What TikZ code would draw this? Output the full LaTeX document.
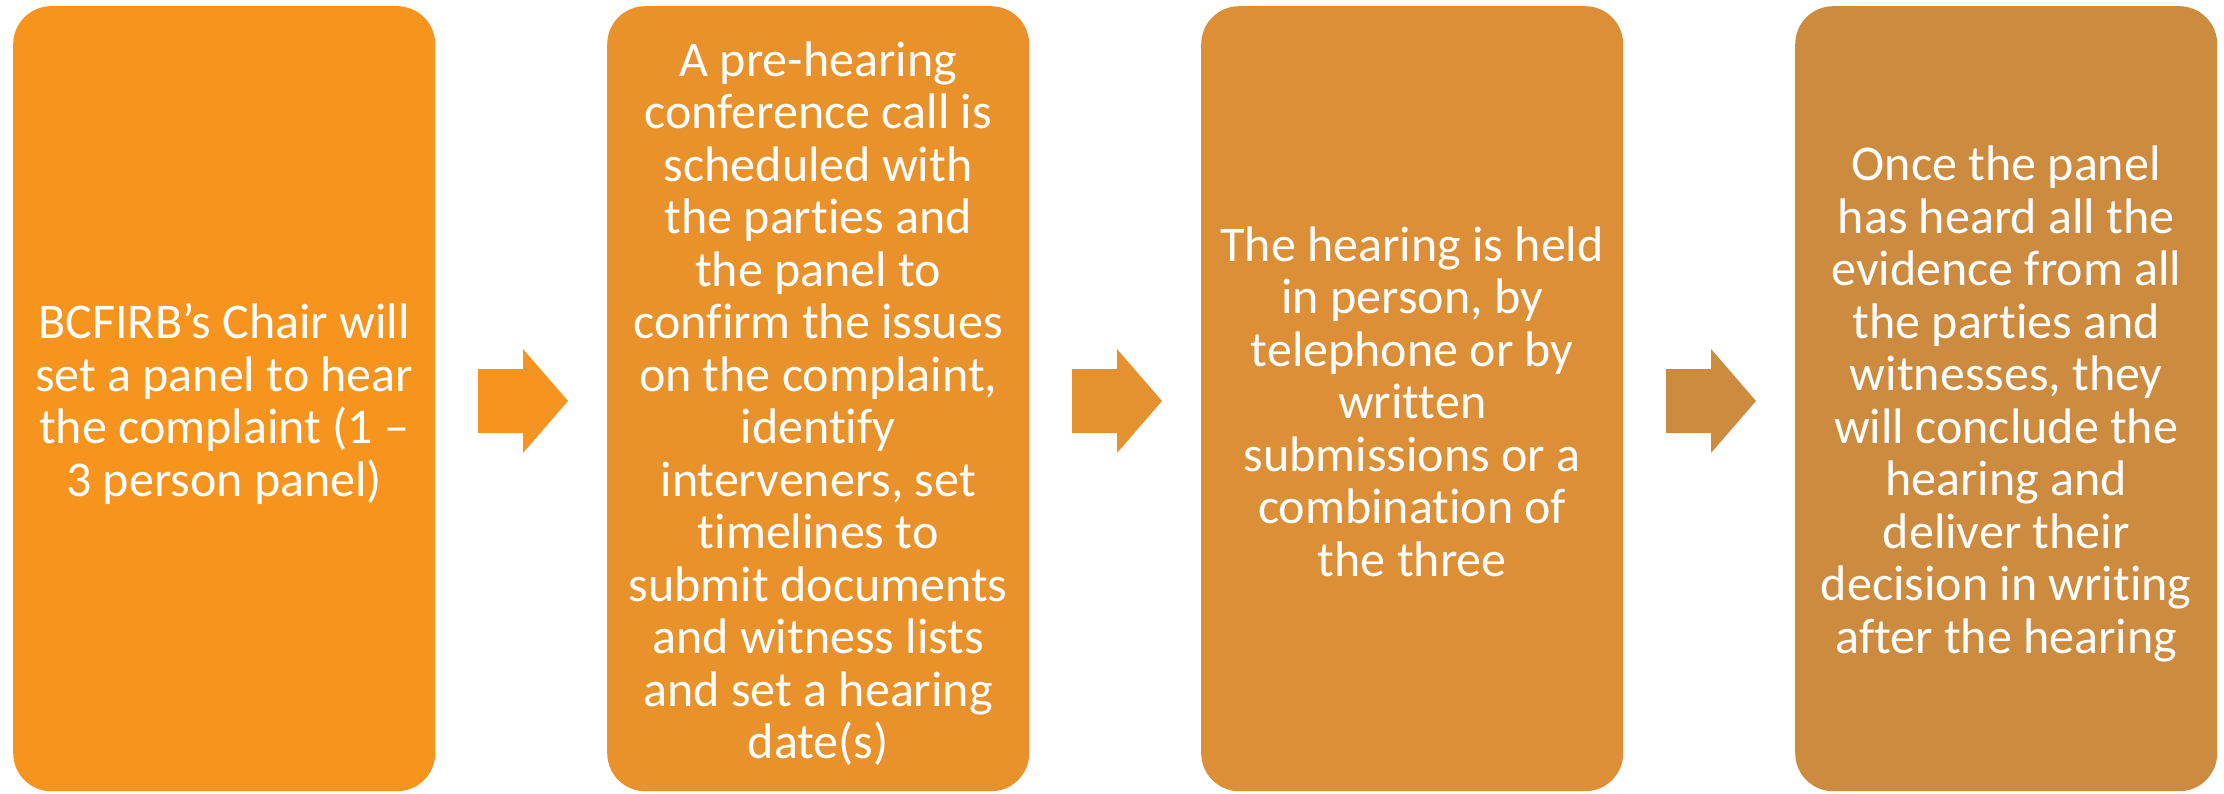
\documentclass[tikz,border=0pt]{standalone}
\usepackage{fontspec}
\setmainfont{Carlito}[Ligatures={NoCommon}]
\definecolor{cA}{RGB}{247,148,29}
\definecolor{cB}{RGB}{233,146,43}
\definecolor{cC}{RGB}{220,143,54}
\definecolor{cD}{RGB}{205,139,64}
\definecolor{aA}{RGB}{245,148,32}
\definecolor{aB}{RGB}{228,145,47}
\definecolor{aC}{RGB}{205,139,64}
\tikzset{
  stepbox/.style={rounded corners=38pt, minimum width=422pt, minimum height=785pt,
    inner sep=0pt, anchor=north west},
  steptext/.style={inner sep=0pt, text=white, align=center,
    font=\fontsize{50}{52.5}\selectfont},
  blockarrow/.style={draw=none}
}
\begin{document}
\begin{tikzpicture}[x=1pt,y=-1pt]
\useasboundingbox (0,0) rectangle (2224,794);
\node[stepbox, fill=cA] (b1) at (13,6) {};
\node[stepbox, fill=cB] (b2) at (607,6) {};
\node[stepbox, fill=cC] (b3) at (1201,6) {};
\node[stepbox, fill=cD] (b4) at (1795,6) {};
\node[steptext] (t1) at ([yshift=-5pt]b1.center) {BCFIRB’s Chair will\\set a panel to hear\\the complaint (1 –\\3 person panel)};
\node[steptext] (t2) at ([yshift=-5pt]b2.center) {A pre-hearing\\conference call is\\scheduled with\\the parties and\\the panel to\\confirm the issues\\on the complaint,\\identify\\interveners, set\\timelines to\\submit documents\\and witness lists\\and set a hearing\\date(s)};
\node[steptext] (t3) at ([yshift=-3pt]b3.center) {The hearing is held\\in person, by\\telephone or by\\written\\submissions or a\\combination of\\the three};
\node[steptext] (t4) at ([yshift=-5pt]b4.center) {Once the panel\\has heard all the\\evidence from all\\the parties and\\witnesses, they\\will conclude the\\hearing and\\deliver their\\decision in writing\\after the hearing};
\foreach \i/\c in {0/aA,1/aB,2/aC}{
  \coordinate (a\i) at ({478+594*\i},401);
  \fill[\c, blockarrow] (a\i) ++(0,-32) -- ++(45,0) -- ++(0,-20) -- ++(45,52) -- ++(-45,52) -- ++(0,-20) -- ++(-45,0) -- cycle;
}
\end{tikzpicture}
\end{document}
